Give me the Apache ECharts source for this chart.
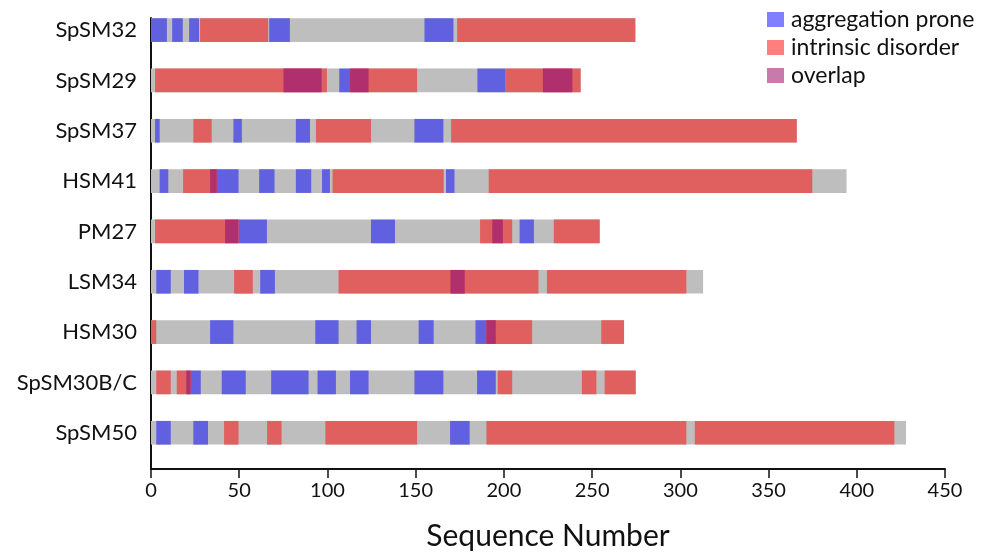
<!DOCTYPE html>
<html>
<head>
<meta charset="utf-8">
<script src="https://cdn.jsdelivr.net/npm/echarts@6/dist/echarts.min.js"></script>
<style>
html,body{margin:0;padding:0;background:#fff;}
#chart{width:992px;height:556px;}
</style>
</head>
<body>
<div id="chart"></div>
<script>
// Categories, top to bottom; y positions 9..1
const categories = ['SpSM32','SpSM29','SpSM37','HSM41','PM27','LSM34','HSM30','SpSM30B/C','SpSM50'];
const yPositions = [9, 8, 7, 6, 5, 4, 3, 2, 1];
const xTicks = [0, 50, 100, 150, 200, 250, 300, 350, 400, 450];

// Full sequence lengths (grey bars)
const lengths = [274.5, 243.5, 366, 394.2, 254.3, 312.9, 268.1, 274.7, 427.9];

// Aggregation prone regions: [category index, start, end]
const aggregation = [
  [0, 0, 9], [0, 12, 18], [0, 21.6, 27.2], [0, 67, 78.7], [0, 155, 171.4],
  [1, 106.7, 112.8], [1, 185, 201],
  [2, 2.3, 4.9], [2, 46.7, 51.5], [2, 82.1, 90.1], [2, 149.3, 165.7],
  [3, 4.9, 9.8], [3, 37.3, 49.6], [3, 61.3, 70], [3, 82.1, 90.8], [3, 96.9, 101.4], [3, 167.2, 172],
  [4, 49.6, 65.7], [4, 124.7, 138.3], [4, 208.9, 217],
  [5, 3, 11.2], [5, 18.7, 26.9], [5, 61.9, 70.2],
  [6, 33.5, 46.7], [6, 93.1, 106.3], [6, 116.5, 124.7], [6, 151.7, 160.2], [6, 183.9, 190],
  [7, 22.5, 28.2], [7, 40.1, 53.7], [7, 68.1, 89.3], [7, 94.4, 104.8], [7, 112.8, 123.3], [7, 149.3, 165.7], [7, 184.8, 195.4],
  [8, 3, 11.2], [8, 24, 32.3], [8, 169.5, 180.6]
];

// Intrinsic disorder regions: [category index, start, end]
const disorder = [
  [0, 27.8, 66.4], [0, 173.5, 274.5],
  [1, 2.3, 99.7], [1, 113, 150.8], [1, 201, 243.5],
  [2, 24, 34.4], [2, 93.5, 124.7], [2, 170.1, 366],
  [3, 18.2, 37.3], [3, 102.9, 165.9], [3, 191.4, 374.8],
  [4, 2.3, 49.6], [4, 186.5, 204.7], [4, 228.3, 254.3],
  [5, 47.1, 57.7], [5, 106.3, 219.6], [5, 224.4, 303.4],
  [6, 0, 3], [6, 190, 216], [6, 255.2, 268.1],
  [7, 3, 11.2], [7, 14.6, 22.5], [7, 196.5, 204.7], [7, 244.2, 252.4], [7, 257.1, 274.7],
  [8, 41.4, 49.6], [8, 65.8, 74], [8, 98.8, 150.8], [8, 190.1, 303.4], [8, 308.2, 421.3]
];

// Overlap regions: [category index, start, end]
const overlap = [
  [1, 75.1, 96.7], [1, 112.8, 123.3], [1, 222.1, 238.8],
  [3, 33.5, 37.3],
  [4, 42, 49.6], [4, 193.4, 199.4],
  [5, 169.7, 177.8],
  [6, 190, 195.4],
  [7, 20, 22.5]
];

const FONT = 'Lato, "Open Sans", sans-serif';
const BAR_H = 0.47;

function toData(list) {
  return list.map(function (d) { return [yPositions[d[0]], d[1], d[2]]; });
}
const greyData = lengths.map(function (len, i) { return [yPositions[i], 0, len]; });

function makeRender(color) {
  return function (params, api) {
    const s = api.coord([api.value(1), api.value(0)]);
    const e = api.coord([api.value(2), api.value(0)]);
    const h = api.size([0, BAR_H])[1];
    return {
      type: 'rect',
      shape: { x: s[0], y: s[1] - h / 2, width: e[0] - s[0], height: h },
      style: { fill: color }
    };
  };
}

function customSeries(name, data, color, z) {
  return {
    name: name,
    type: 'custom',
    renderItem: makeRender(color),
    encode: { x: [1, 2], y: 0 },
    data: data,
    itemStyle: { color: color },
    z: z,
    silent: true
  };
}

const chart = echarts.init(document.getElementById('chart'), null, { renderer: 'canvas' });
chart.setOption({
  animation: false,
  backgroundColor: '#ffffff',
  grid: { left: 151, right: 47, top: 18, bottom: 79, containLabel: false },
  legend: {
    orient: 'vertical',
    left: 762,
    top: 3,
    itemWidth: 17,
    itemHeight: 15,
    itemGap: 5,
    icon: 'rect',
    textStyle: { fontFamily: FONT, fontSize: 23, color: '#111', padding: [0, 0, 0, 2] },
    data: [
      { name: 'aggregation prone', itemStyle: { color: '#7f7fff' } },
      { name: 'intrinsic disorder', itemStyle: { color: '#ff7f7f' } },
      { name: 'overlap', itemStyle: { color: '#c87aaa' } }
    ]
  },
  xAxis: {
    type: 'value',
    min: 0,
    max: 450,
    interval: 50,
    name: 'Sequence Number',
    nameLocation: 'middle',
    nameGap: 52,
    nameTextStyle: { fontFamily: FONT, fontSize: 30, color: '#111' },
    axisLine: { show: true, lineStyle: { color: '#111', width: 2 } },
    axisTick: { show: true, length: 9, lineStyle: { color: '#111', width: 1.5 } },
    axisLabel: {
      fontFamily: FONT, fontSize: 20, color: '#111', margin: 12,
      formatter: function (v) { return xTicks.indexOf(v) >= 0 ? String(v) : ''; }
    },
    splitLine: { show: false }
  },
  yAxis: {
    type: 'value',
    min: 0.28,
    max: 9.24,
    axisLine: { show: true, lineStyle: { color: '#111', width: 2 } },
    axisTick: { show: false },
    splitLine: { show: false },
    axisLabel: {
      customValues: yPositions,
      fontFamily: FONT, fontSize: 22, color: '#111', margin: 14,
      formatter: function (v) {
        const i = yPositions.indexOf(Math.round(v));
        return i >= 0 ? categories[i] : '';
      }
    }
  },
  series: [
    customSeries('sequence', greyData, '#bebebe', 1),
    customSeries('aggregation prone', toData(aggregation), '#6060e0', 2),
    customSeries('intrinsic disorder', toData(disorder), '#e06060', 3),
    customSeries('overlap', toData(overlap), '#b0306e', 4)
  ]
});
</script>
</body>
</html>
